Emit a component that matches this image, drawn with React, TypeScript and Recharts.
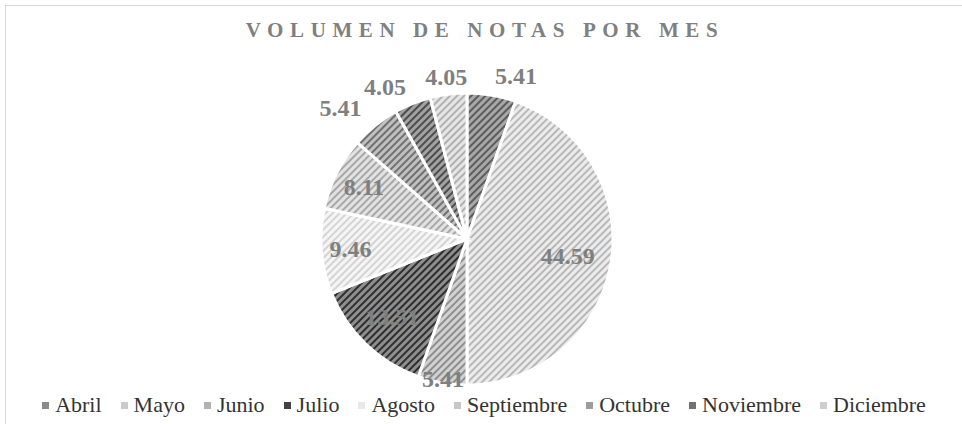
import { PieChart, Pie, Cell } from "recharts";

const months = [
  "Abril",
  "Mayo",
  "Junio",
  "Julio",
  "Agosto",
  "Septiembre",
  "Octubre",
  "Noviembre",
  "Diciembre",
];
const shares = [5.41, 44.59, 5.41, 13.51, 9.46, 8.11, 5.41, 4.05, 4.05];

// hatch fill per slice: [background, stripe], legend swatch
const hatch = [
  ["#a8a8a8", "#5c5c5c"],
  ["#ececec", "#b8b8b8"],
  ["#d2d2d2", "#8e8e8e"],
  ["#8e8e8e", "#2e2e2e"],
  ["#f5f5f5", "#d4d4d4"],
  ["#e2e2e2", "#a8a8a8"],
  ["#c0c0c0", "#707070"],
  ["#a2a2a2", "#4c4c4c"],
  ["#e6e6e6", "#b0b0b0"],
];
const swatch = [
  "#8a8a8a",
  "#cacaca",
  "#b2b2b2",
  "#424242",
  "#e8e8e8",
  "#c6c6c6",
  "#9c9c9c",
  "#727272",
  "#cecece",
];

// label placement (fraction of radius, text anchor)
const labelRadius = [1.13, 0.7, 0.97, 0.74, 0.8, 0.79, 1.15, 1.12, 1.12];
const labelAnchor = ["start", "middle", "middle", "middle", "middle", "middle", "end", "end", "middle"];

const data = months.map((m, i) => ({ name: m, value: shares[i] }));

const RAD = Math.PI / 180;
const serif = "'Liberation Serif', 'Times New Roman', serif";

function renderLabel(p: any) {
  const { cx, cy, midAngle, outerRadius, index, value } = p;
  const r = outerRadius * labelRadius[index];
  const x = cx + r * Math.cos(-midAngle * RAD);
  const y = cy + r * Math.sin(-midAngle * RAD);
  return (
    <text
      x={x}
      y={y}
      textAnchor={labelAnchor[index] as any}
      dominantBaseline="central"
      fill="#7f7f7f"
      fontFamily={serif}
      fontWeight="bold"
      fontSize={24}
    >
      {value.toFixed(2)}
    </text>
  );
}

export default function App() {
  return (
    <div
      style={{
        position: "absolute",
        top: 0,
        left: 0,
        width: 962,
        height: 424,
        overflow: "hidden",
        background: "#fff",
      }}
    >
      <div
        style={{
          position: "absolute",
          left: 5,
          top: 5,
          width: 980,
          height: 440,
          border: "1.5px solid #d9d9d9",
        }}
      />
      <div
        style={{
          position: "absolute",
          top: 18,
          left: 0,
          width: 970,
          textAlign: "center",
          fontFamily: serif,
          fontWeight: "bold",
          fontSize: 21,
          letterSpacing: 6.6,
          color: "#808080",
        }}
      >
        VOLUMEN DE NOTAS POR MES
      </div>
      <PieChart width={962} height={424} style={{ position: "absolute", top: 0, left: 0 }}>
        <defs>
          {hatch.map(([bg, fg], i) => (
            <pattern
              key={i}
              id={`hatch${i}`}
              width={5}
              height={5}
              patternUnits="userSpaceOnUse"
              patternTransform="rotate(45)"
            >
              <rect width={5} height={5} fill={bg} />
              <rect width={2} height={5} fill={fg} />
            </pattern>
          ))}
        </defs>
        <Pie
          data={data}
          dataKey="value"
          nameKey="name"
          cx={462}
          cy={234}
          outerRadius={146}
          startAngle={90}
          endAngle={-270}
          stroke="#fff"
          strokeWidth={3}
          label={renderLabel}
          labelLine={false}
          isAnimationActive={false}
        >
          {data.map((d, i) => (
            <Cell key={d.name} fill={`url(#hatch${i})`} />
          ))}
        </Pie>
      </PieChart>
      <div
        style={{
          position: "absolute",
          top: 391,
          left: 0,
          width: 968,
          display: "flex",
          justifyContent: "center",
          gap: 19,
          fontFamily: serif,
          fontSize: 22,
          lineHeight: "28px",
          color: "#333",
        }}
      >
        {months.map((m, i) => (
          <span key={m} style={{ display: "flex", alignItems: "center" }}>
            <span
              style={{
                width: 7,
                height: 7,
                background: swatch[i],
                marginRight: 6,
                display: "inline-block",
              }}
            />
            {m}
          </span>
        ))}
      </div>
    </div>
  );
}
